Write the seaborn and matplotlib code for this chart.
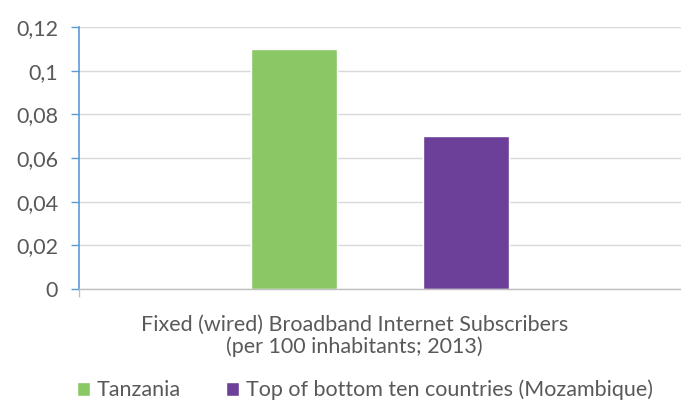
import pandas as pd
import seaborn as sns
import matplotlib.pyplot as plt
from matplotlib.ticker import FuncFormatter

# Data
countries = ['Tanzania', 'Top of bottom ten countries (Mozambique)']
subscribers = [0.11, 0.07]
colors = ['#8AC866', '#6C3F99']
category = 'Fixed (wired) Broadband Internet Subscribers\n(per 100 inhabitants; 2013)'
y_ticks = [0, 0.02, 0.04, 0.06, 0.08, 0.1, 0.12]

df = pd.DataFrame({'Category': [category] * len(countries),
                   'Country': countries,
                   'Value': subscribers})

sns.set_style('white')
plt.rcParams['font.family'] = ['Lato', 'DejaVu Sans']
text_color = '#595959'
fs = 15.5

fig = plt.figure(figsize=(6.81, 4.03), dpi=100)
ax = fig.add_axes([0.116, 0.283, 0.884, 0.65])

sns.barplot(data=df, x='Category', y='Value', hue='Country',
            palette=colors, width=0.57, gap=0.5, saturation=1,
            ax=ax, legend=True)

ax.set_ylim(0, 0.12)
ax.set_xlim(-0.5, 0.5)
ax.set_yticks(y_ticks)
ax.yaxis.set_major_formatter(FuncFormatter(lambda v, p: f'{v:g}'.replace('.', ',')))
ax.yaxis.grid(True, color='#D9D9D9', linewidth=1)
ax.set_axisbelow(True)

ax.tick_params(axis='y', length=6, width=1, color='#5B9BD5', labelsize=fs,
               labelcolor=text_color, pad=9, left=True)
# small tick at the left end of the category axis
ax.set_xticks([-0.5])
ax.tick_params(axis='x', length=6, width=1, color='#BFBFBF', bottom=True,
               labelbottom=False)
for s in ['top', 'right']:
    ax.spines[s].set_visible(False)
ax.spines['left'].set_color('#5B9BD5')
ax.spines['left'].set_linewidth(1.2)
ax.spines['bottom'].set_color('#BFBFBF')
ax.spines['bottom'].set_linewidth(1)

ax.set_ylabel('')
ax.set_xlabel(category, fontsize=fs, color=text_color, linespacing=1.05)
ax.xaxis.set_label_coords(0.458, -0.1)

handles, labels = ax.get_legend_handles_labels()
ax.legend(handles, labels, loc='center left', bbox_to_anchor=(77 / 681, 1 - 390 / 403),
          bbox_transform=fig.transFigure, ncol=2, frameon=False,
          borderaxespad=0, borderpad=0,
          fontsize=fs, labelcolor=text_color, handlelength=0.6,
          handleheight=0.6, handletextpad=0.33, columnspacing=2.1)

plt.savefig('out.png', dpi=100)
plt.close()
